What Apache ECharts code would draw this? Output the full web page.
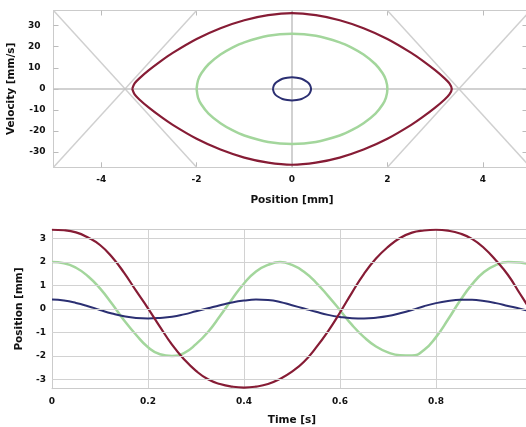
<html>
<head>
<meta charset="UTF-8">
<title>Phase portrait</title>
<script type="text/javascript" src="https://cdn.jsdelivr.net/npm/echarts/dist/echarts.min.js"></script>
<style>
	body { margin:0; background:#fff; }
	#main { width:526px; height:427px; }
</style>
</head>
<body>
<div id="main"></div>
<script type="text/javascript">
	// phase plane: position [mm] / velocity [mm/s], one closed loop per curve
	var redPos = [-3.35,-3.3,-3.2,-3.0,-2.75,-2.5,-2.0,-1.5,-1.0,-0.5,0,0.5,1.0,1.5,2.0,2.5,2.75,3.0,3.2,3.3,3.35,
		3.3,3.2,3.0,2.75,2.5,2.0,1.5,1.0,0.5,0,-0.5,-1.0,-1.5,-2.0,-2.5,-2.75,-3.0,-3.2,-3.3,-3.35];
	var redVel = [0,2.6,5.0,8.9,13.2,17.1,23.7,28.8,32.6,35.0,36.0,35.0,32.6,28.8,23.7,17.1,13.2,8.9,5.0,2.6,0,
		-2.6,-5.0,-8.9,-13.2,-17.1,-23.7,-28.8,-32.6,-35.0,-36.0,-35.0,-32.6,-28.8,-23.7,-17.1,-13.2,-8.9,-5.0,-2.6,0];
	var greenPos = [-2.0,-1.97,-1.9,-1.75,-1.5,-1.25,-1.0,-0.5,0,0.5,1.0,1.25,1.5,1.75,1.9,1.97,2.0,
		1.97,1.9,1.75,1.5,1.25,1.0,0.5,0,-0.5,-1.0,-1.25,-1.5,-1.75,-1.9,-1.97,-2.0];
	var greenVel = [0,4.1,7.4,11.7,16.3,19.6,22.1,25.2,26.2,25.2,22.1,19.6,16.3,11.7,7.4,4.1,0,
		-4.1,-7.4,-11.7,-16.3,-19.6,-22.1,-25.2,-26.2,-25.2,-22.1,-19.6,-16.3,-11.7,-7.4,-4.1,0];
	var bluePos = [-0.4,-0.38,-0.35,-0.3,-0.2,-0.1,0,0.1,0.2,0.3,0.35,0.38,0.4,
		0.38,0.35,0.3,0.2,0.1,0,-0.1,-0.2,-0.3,-0.35,-0.38,-0.4];
	var blueVel = [0,1.7,2.7,3.6,4.8,5.3,5.5,5.3,4.8,3.6,2.7,1.7,0,
		-1.7,-2.7,-3.6,-4.8,-5.3,-5.5,-5.3,-4.8,-3.6,-2.7,-1.7,0];
	// grey crossing lines and zero axes, end points
	var guidePos = [[-5,-2],[-5,-2],[2,5],[2,5],[-5,5],[0,0]];
	var guideVel = [[37.2,-37.2],[-37.2,37.2],[37.2,-37.2],[-37.2,37.2],[0,0],[-37.2,37.2]];

	// time signals
	var time = [0,0.025,0.05,0.075,0.1,0.125,0.15,0.175,0.2,0.225,0.25,0.275,0.3,0.325,0.35,0.375,0.4,0.425,0.45,0.475,
		0.5,0.525,0.55,0.575,0.6,0.625,0.65,0.675,0.7,0.725,0.75,0.775,0.8,0.825,0.85,0.875,0.9,0.925,0.95,0.975,1.0];
	var redX = [3.38,3.36,3.27,3.05,2.73,2.22,1.55,0.78,0.03,-0.76,-1.52,-2.14,-2.64,-3.0,-3.2,-3.31,-3.35,-3.31,-3.2,-2.98,
		-2.67,-2.25,-1.65,-0.95,-0.15,0.7,1.5,2.15,2.65,3.03,3.26,3.35,3.38,3.34,3.22,2.99,2.6,2.07,1.45,0.65,-0.15];
	var greenX = [2.0,1.95,1.76,1.40,0.88,0.22,-0.48,-1.1,-1.63,-1.93,-2.0,-1.88,-1.5,-0.98,-0.3,0.42,1.09,1.6,1.88,2.0,
		1.88,1.59,1.13,0.56,-0.05,-0.68,-1.2,-1.6,-1.85,-1.97,-1.98,-1.75,-1.2,-0.45,0.35,1.05,1.58,1.88,2.0,1.98,1.85];
	var blueX = [0.40,0.36,0.26,0.12,-0.04,-0.19,-0.31,-0.38,-0.40,-0.38,-0.33,-0.23,-0.1,0.03,0.16,0.28,0.36,0.40,0.38,0.30,
		0.16,0.02,-0.12,-0.25,-0.34,-0.39,-0.40,-0.37,-0.3,-0.18,-0.04,0.12,0.25,0.34,0.39,0.39,0.34,0.25,0.13,0.01,-0.12];

	// tick labels
	var posTicks = [-4,-2,0,2,4];
	var velTicks = [-30,-20,-10,0,10,20,30];
	var xTicks = [-3,-2,-1,0,1,2,3];

	var RED = '#861c35', GREEN = '#a3d69c', BLUE = '#2b2f72', GREY = '#cbcbcb';
	var FONT = 'DejaVu Sans';

	function pairs(a, b) {
		var out = [];
		for (var i = 0; i < a.length; i++) out.push([a[i], b[i]]);
		return out;
	}

	var labelStyle = { fontFamily:FONT, fontWeight:'bold', fontSize:9, color:'#111' };
	var nameStyle = { fontFamily:FONT, fontWeight:'bold', fontSize:10.5, color:'#111' };
	var border = { show:true, onZero:false, lineStyle:{ color:GREY, width:1 } };

	var series = [];
	for (var g = 0; g < guidePos.length; g++) {
		series.push({
			type:'line', xAxisIndex:0, yAxisIndex:0, data:pairs(guidePos[g], guideVel[g]),
			showSymbol:false, silent:true, lineStyle:{ color:g < 4 ? '#d0d0d0' : '#c2c2c2', width:1.5 }
		});
	}
	series.push({ type:'line', xAxisIndex:0, yAxisIndex:0, data:pairs(greenPos, greenVel), showSymbol:false, smooth:0.3, lineStyle:{ color:GREEN, width:2.5 } });
	series.push({ type:'line', xAxisIndex:0, yAxisIndex:0, data:pairs(bluePos, blueVel), showSymbol:false, smooth:0.3, lineStyle:{ color:BLUE, width:2 } });
	series.push({ type:'line', xAxisIndex:0, yAxisIndex:0, data:pairs(redPos, redVel), showSymbol:false, smooth:0.3, lineStyle:{ color:RED, width:2.2 } });

	var hGrid = [];
	for (var k = 0; k < xTicks.length; k++) hGrid.push({ yAxis:xTicks[k] });
	series.push({
		type:'line', xAxisIndex:2, yAxisIndex:2, data:pairs(time, greenX), showSymbol:false, smooth:true,
		lineStyle:{ color:GREEN, width:2.5 },
		markLine:{ silent:true, symbol:['none','none'], label:{ show:false }, lineStyle:{ color:'#d2d2d2', width:1, type:'solid' }, data:hGrid }
	});
	series.push({ type:'line', xAxisIndex:2, yAxisIndex:2, data:pairs(time, blueX), showSymbol:false, smooth:true, lineStyle:{ color:BLUE, width:2 } });
	series.push({ type:'line', xAxisIndex:2, yAxisIndex:2, data:pairs(time, redX), showSymbol:false, smooth:true, lineStyle:{ color:RED, width:2.2 } });

	var myChart = echarts.init(document.getElementById('main'));
	myChart.setOption({
		animation:false,
		backgroundColor:'#fff',
		grid:[
			{ left:53.5, top:10.5, width:477, height:156.8, containLabel:false, outerBoundsMode:'none' },
			{ left:52, top:229.3, width:480, height:159.4, containLabel:false, outerBoundsMode:'none' }
		],
		xAxis:[
			{ type:'value', gridIndex:0, min:-5, max:5, name:'Position [mm]', nameLocation:'middle', nameGap:27, nameTextStyle:nameStyle,
			  axisLine:border, splitLine:{ show:false },
			  axisTick:{ show:true, inside:true, length:5, lineStyle:{ color:'#bbb' }, customValues:posTicks },
			  axisLabel:Object.assign({ margin:8, customValues:posTicks }, labelStyle) },
			{ type:'value', gridIndex:0, position:'top', min:-5, max:5, axisLine:border, splitLine:{ show:false },
			  axisTick:{ show:true, inside:true, length:5, lineStyle:{ color:'#bbb' }, customValues:posTicks },
			  axisLabel:{ show:false } },
			{ type:'value', gridIndex:1, min:0, max:1, interval:0.2, name:'Time [s]', nameLocation:'middle', nameGap:26, nameTextStyle:nameStyle,
			  axisLine:border, axisTick:{ show:false },
			  splitLine:{ show:true, lineStyle:{ color:'#d2d2d2', width:1 } },
			  axisLabel:Object.assign({ margin:8 }, labelStyle) },
			{ type:'value', gridIndex:1, position:'top', min:0, max:1, axisLine:border, axisTick:{ show:false },
			  splitLine:{ show:false }, axisLabel:{ show:false } }
		],
		yAxis:[
			{ type:'value', gridIndex:0, min:-37.2, max:37.2, name:'Velocity [mm/s]', nameLocation:'middle', nameGap:30, nameTextStyle:nameStyle,
			  axisLine:border, splitLine:{ show:false },
			  axisTick:{ show:true, inside:true, length:5, lineStyle:{ color:'#bbb' }, customValues:velTicks },
			  axisLabel:Object.assign({ margin:8, customValues:velTicks,
				formatter:function (v) { return v > 0 ? '{p|' + v + '}' : '{n|' + v + '}'; },
				rich:{ p:Object.assign({ padding:[0,5,0,0] }, labelStyle), n:Object.assign({}, labelStyle) } }, labelStyle) },
			{ type:'value', gridIndex:0, position:'right', min:-37.2, max:37.2, axisLine:border, splitLine:{ show:false },
			  axisTick:{ show:true, inside:true, length:8, lineStyle:{ color:'#bbb' }, customValues:velTicks },
			  axisLabel:{ show:false } },
			{ type:'value', gridIndex:1, min:-3.4, max:3.4, name:'Position [mm]', nameLocation:'middle', nameGap:21, nameTextStyle:nameStyle,
			  axisLine:border, splitLine:{ show:false }, axisTick:{ show:false },
			  axisLabel:Object.assign({ margin:6, customValues:xTicks }, labelStyle) },
			{ type:'value', gridIndex:1, position:'right', min:-3.4, max:3.4, axisLine:border, splitLine:{ show:false },
			  axisTick:{ show:false }, axisLabel:{ show:false } }
		],
		series:series
	});
</script>
</body>
</html>
